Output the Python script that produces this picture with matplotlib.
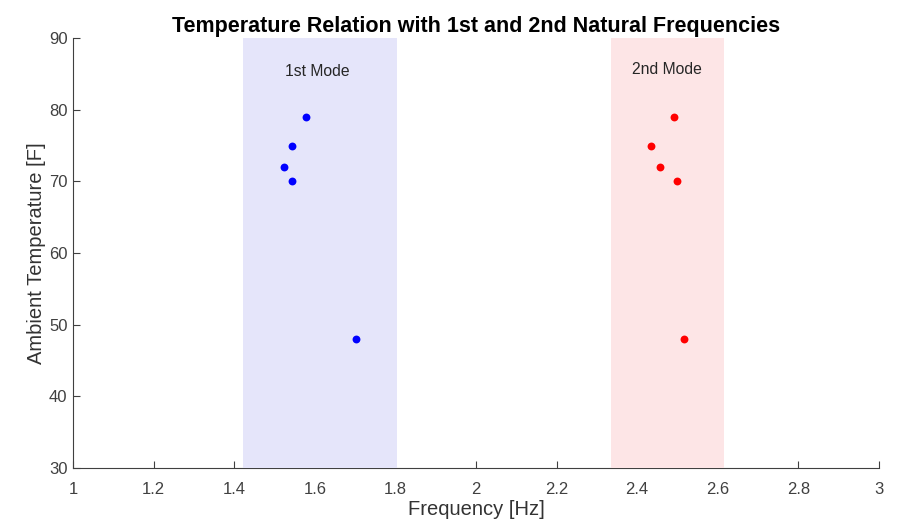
import matplotlib
matplotlib.use("Agg")
import matplotlib.pyplot as plt

plt.rcParams['font.family'] = ['Liberation Sans', 'DejaVu Sans']

# Natural frequency data
freq_1st = [1.578, 1.543, 1.524, 1.543, 1.702]
freq_2nd = [2.491, 2.434, 2.457, 2.499, 2.516]
temps = [79, 75, 72, 70, 48]

# Frequency bands for each mode
band_1st = (1.422, 1.804)
band_2nd = (2.335, 2.615)

fig = plt.figure(figsize=(8.98, 5.25), dpi=100)
ax = fig.add_axes([0.0813, 0.1086, 0.8975, 0.819])

ax.axvspan(band_1st[0], band_1st[1], color='#e5e5fa', zorder=3, lw=0)
ax.axvspan(band_2nd[0], band_2nd[1], color='#fde5e6', zorder=3, lw=0)

ax.scatter(freq_1st, temps, s=32, color='#0000ff', zorder=4, lw=0)
ax.scatter(freq_2nd, temps, s=32, color='#ff0000', zorder=4, lw=0)

ax.text(1.607, 85.3, '1st Mode', ha='center', va='center', fontsize=11.3, color='#262626', zorder=5)
ax.text(2.474, 85.6, '2nd Mode', ha='center', va='center', fontsize=11.3, color='#262626', zorder=5)

ax.set_xlim(1, 3)
ax.set_ylim(30, 90)
ax.set_xticks([1, 1.2, 1.4, 1.6, 1.8, 2, 2.2, 2.4, 2.6, 2.8, 3])
ax.set_xticklabels(['1', '1.2', '1.4', '1.6', '1.8', '2', '2.2', '2.4', '2.6', '2.8', '3'])
ax.set_yticks([30, 40, 50, 60, 70, 80, 90])

for side in ['top', 'right']:
    ax.spines[side].set_visible(False)
for side in ['left', 'bottom']:
    ax.spines[side].set_color('#404040')
    ax.spines[side].set_linewidth(0.8)
ax.tick_params(direction='in', length=5, width=0.8, colors='#404040', labelsize=12)
ax.tick_params(axis='x', pad=10)
ax.tick_params(axis='y', pad=4)

ax.set_xlabel('Frequency [Hz]', fontsize=14.5, color='#333333', labelpad=2)
ax.set_ylabel('Ambient Temperature [F]', fontsize=14.5, color='#333333', labelpad=2)
ax.set_title('Temperature Relation with 1st and 2nd Natural Frequencies',
             fontsize=15.5, fontweight='bold', color='black', pad=4)

fig.savefig('out.png', dpi=100)
